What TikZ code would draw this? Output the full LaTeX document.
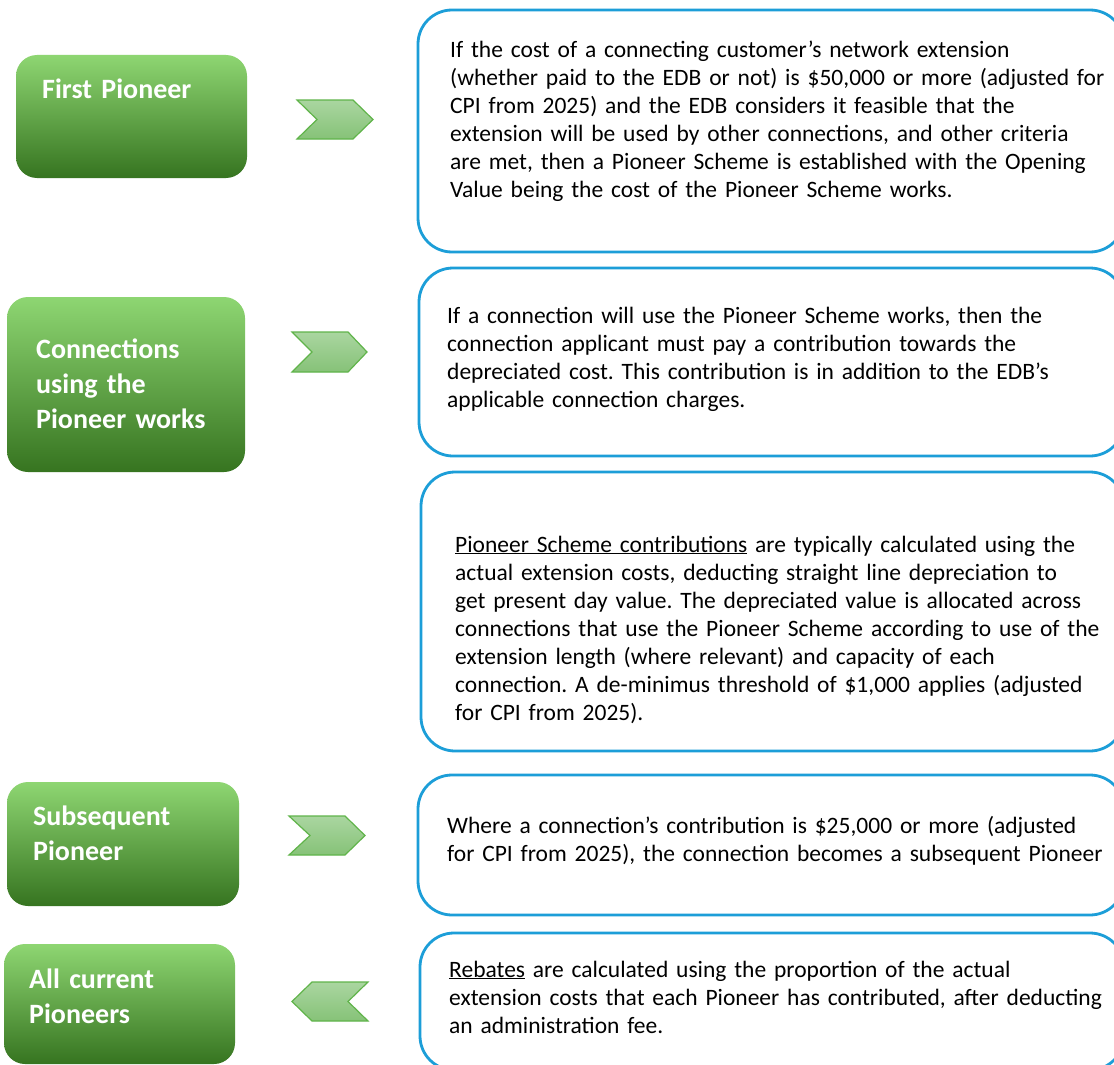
\documentclass[tikz,border=0pt]{standalone}
\usepackage{fontspec}
\setmainfont{Carlito}
\frenchspacing
\definecolor{bluebd}{RGB}{28,158,216}
\definecolor{gtop}{RGB}{142,214,114}
\definecolor{gmid}{RGB}{82,176,50}
\definecolor{gbot}{RGB}{54,116,32}
\definecolor{ctop}{RGB}{170,214,160}
\definecolor{cbot}{RGB}{134,194,120}
\definecolor{cbd}{RGB}{96,180,74}
\begin{document}
\begin{tikzpicture}[x=1pt,y=-1pt,
  greenbox/.style={rounded corners=21pt, top color=gtop, middle color=gmid, bottom color=gbot, draw=none},
  greenlabel/.style={anchor=base west, inner sep=0pt, text=white, align=left, text width=220pt,
     font=\bfseries\fontsize{28}{35}\selectfont},
  bluebox/.style={draw=bluebd, line width=2.8pt, rounded corners=34pt},
  bodytext/.style={anchor=base west, inner sep=0pt, text=black, align=left, text width=700pt,
     font=\fontsize{23.5}{28}\selectfont},
  chevron/.style={top color=ctop, bottom color=cbot, draw=cbd, line width=1.2pt, line join=miter}]
\useasboundingbox (0,0) rectangle (1114,1065);
\clip (0,0) rectangle (1114,1065);
\fill[white] (0,0) rectangle (1114,1065);

% green boxes
\path[greenbox] (16,55) rectangle (247,178);
\path[greenbox] (7,297) rectangle (245,472);
\path[greenbox] (7,782) rectangle (239,906);
\path[greenbox] (4,944) rectangle (235,1064);

\node[greenlabel] (g1) at (42,99) {First Pioneer};
\node[greenlabel] (g2) at (36,358) {Connections\\using the\\Pioneer works};
\node[greenlabel] (g3) at (33,825) {Subsequent\\Pioneer};
\node[greenlabel] (g4) at (29,988) {All current\\Pioneers};

% chevrons
\path[chevron] (297,100) -- (353,100) -- (373,119.5) -- (353,139) -- (297,139) -- (317,119.5) -- cycle;
\path[chevron] (292,332) -- (348,332) -- (367,352) -- (348,372) -- (292,372) -- (312,352) -- cycle;
\path[chevron] (289,816) -- (345,816) -- (365,835.5) -- (345,855) -- (289,855) -- (310,835.5) -- cycle;
\path[chevron] (368,982) -- (312,982) -- (292,1001.5) -- (312,1021) -- (368,1021) -- (348,1001.5) -- cycle;

% blue boxes
\path[bluebox] (418,10) rectangle (1124,252);
\path[bluebox] (419,268) rectangle (1124,456);
\path[bluebox] (421,472) rectangle (1124,751);
\path[bluebox] (418,775) rectangle (1124,915);
\path[bluebox] (420,933) rectangle (1124,1070);

\node[bodytext] (t1) at (450,58) {If the cost of a connecting customer’s network extension\\
(whether paid to the EDB or not) is \$50,000 or more (adjusted for\\
CPI from 2025) and the EDB considers it feasible that the\\
extension will be used by other connections, and other criteria\\
are met, then a Pioneer Scheme is established with the Opening\\
Value being the cost of the Pioneer Scheme works.};

\node[bodytext] (t2) at (447,323) {If a connection will use the Pioneer Scheme works, then the\\
connection applicant must pay a contribution towards the\\
depreciated cost. This contribution is in addition to the EDB’s\\
applicable connection charges.};

\node[bodytext] (t3) at (455,552) {\underline{Pioneer Scheme contributions} are typically calculated using the\\
actual extension costs, deducting straight line depreciation to\\
get present day value. The depreciated value is allocated across\\
connections that use the Pioneer Scheme according to use of the\\
extension length (where relevant) and capacity of each\\
connection. A de-minimus threshold of \$1,000 applies (adjusted\\
for CPI from 2025).};

\node[bodytext] (t4) at (447,833) {Where a connection’s contribution is \$25,000 or more (adjusted\\
for CPI from 2025), the connection becomes a subsequent Pioneer};

\node[bodytext] (t5) at (449,977) {\underline{Rebates} are calculated using the proportion of the actual\\
extension costs that each Pioneer has contributed, after deducting\\
an administration fee.};
\end{tikzpicture}
\end{document}
